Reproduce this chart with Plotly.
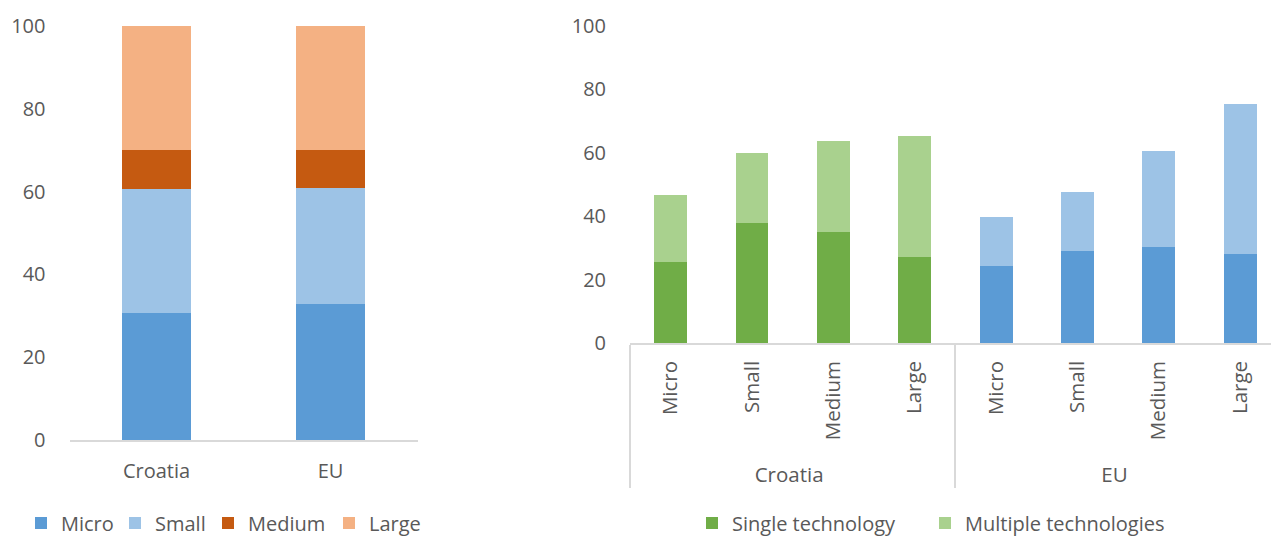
import plotly.graph_objects as go

# ---- Left chart data ----
countries = ["Croatia", "EU"]
size_classes = ["Micro", "Small", "Medium", "Large"]
share_micro = [30.7, 32.9]
share_small = [29.9, 27.9]
share_medium = [9.5, 9.2]
share_large = [29.9, 30.0]

# ---- Right chart data ----
croatia_single = [25.7, 37.7, 35.0, 27.0]
croatia_multiple = [21.0, 22.1, 28.7, 38.2]
eu_single = [24.4, 28.9, 30.4, 28.2]
eu_multiple = [15.2, 18.6, 30.1, 47.1]

W, H = 1271, 536
FONT = "Open Sans"
FS = 20
GREY = "#595959"
AXIS = "#D9D9D9"

C_MICRO, C_SMALL, C_MEDIUM, C_LARGE = "#5B9BD5", "#9DC3E6", "#C55A11", "#F4B183"
C_G1, C_G2 = "#70AD47", "#A9D18E"
C_B1, C_B2 = "#5B9BD5", "#9DC3E6"

fig = go.Figure()

# each legend entry gets its own legend box so it can sit where the reference has it
left_series = [("Micro", share_micro, C_MICRO, "legend"),
               ("Small", share_small, C_SMALL, "legend3"),
               ("Medium", share_medium, C_MEDIUM, "legend4"),
               ("Large", share_large, C_LARGE, "legend5")]
for name, vals, col, lg in left_series:
    fig.add_trace(go.Bar(x=countries, y=vals, name=name, marker_color=col,
                         marker_line_width=0, width=0.4,
                         xaxis="x", yaxis="y", legend=lg))

# non-breaking spaces only pad the rotated label box downward (pushes group labels)
size_labels = ["Micro", "Small", "\u00a0\u00a0Medium", "Large"]
x_cro = [["Croatia"] * 4, size_labels]
x_eu = [["EU"] * 4, size_labels]
fig.add_trace(go.Bar(x=x_cro, y=croatia_single, name="Single technology", marker_color=C_G1,
                     marker_line_width=0, width=0.405, xaxis="x2", yaxis="y2", legend="legend2"))
fig.add_trace(go.Bar(x=x_cro, y=croatia_multiple, name="Multiple technologies", marker_color=C_G2,
                     marker_line_width=0, width=0.405, xaxis="x2", yaxis="y2", legend="legend6"))
fig.add_trace(go.Bar(x=x_eu, y=eu_single, name="Single technology", marker_color=C_B1,
                     marker_line_width=0, width=0.405, xaxis="x2", yaxis="y2",
                     showlegend=False))
fig.add_trace(go.Bar(x=x_eu, y=eu_multiple, name="Multiple technologies", marker_color=C_B2,
                     marker_line_width=0, width=0.405, xaxis="x2", yaxis="y2",
                     showlegend=False))

def px_x(p):
    return p / W

def px_y(p):
    return (H - p) / H

def legend_at(x_px):
    return dict(orientation="h", xref="container", yref="container",
                x=px_x(x_px), y=px_y(523), xanchor="left", yanchor="middle",
                font=dict(size=FS, color=GREY), bgcolor="rgba(0,0,0,0)",
                itemwidth=30)

fig.update_layout(
    width=W, height=H,
    margin=dict(l=0, r=0, t=0, b=0, autoexpand=False),
    paper_bgcolor="white", plot_bgcolor="white",
    barmode="stack",
    font=dict(family=FONT, size=FS, color=GREY),
    xaxis=dict(domain=[px_x(69.5), px_x(417.5)], anchor="y", showgrid=False,
               showline=True, linecolor=AXIS, linewidth=1.5, ticks="outside",
               ticklen=12, tickcolor="rgba(0,0,0,0)", tickfont=dict(size=FS, color=GREY)),
    yaxis=dict(domain=[px_y(440), px_y(26)], anchor="x", range=[0, 100], dtick=20,
               showgrid=False, showline=False, zeroline=False, ticks="outside",
               ticklen=19, tickcolor="rgba(0,0,0,0)", tickfont=dict(size=FS, color=GREY)),
    xaxis2=dict(domain=[px_x(630), 1.0], anchor="y2", type="multicategory",
                range=[-0.5, 7.38], showgrid=False, showline=True, linecolor=AXIS,
                linewidth=1.5, showdividers=True, dividercolor=AXIS, dividerwidth=1.5,
                ticklabelstandoff=8,
                tickangle=-90, tickfont=dict(size=20.5, color=GREY)),
    yaxis2=dict(domain=[px_y(343), px_y(26)], anchor="x2", range=[0, 100], dtick=20,
                showgrid=False, showline=False, zeroline=False, ticks="outside",
                ticklen=19, tickcolor="rgba(0,0,0,0)", tickfont=dict(size=FS, color=GREY)),
    legend=legend_at(21),
    legend3=legend_at(115),
    legend4=legend_at(208),
    legend5=legend_at(329),
    legend2=legend_at(692),
    legend6=legend_at(925),
)

fig.write_html("out.html", config={"displayModeBar": False},
               post_script="document.body.style.margin='0';document.body.style.padding='0';")
